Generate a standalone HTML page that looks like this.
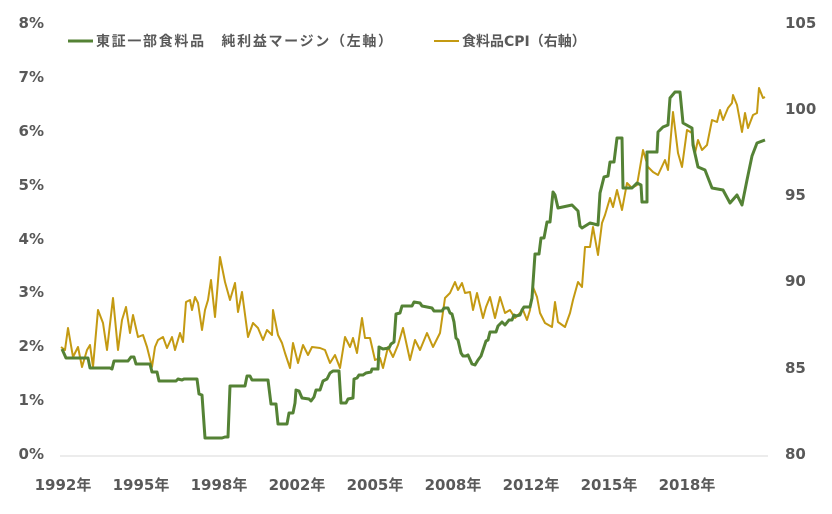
<!DOCTYPE html>
<html><head><meta charset="utf-8"><style>
body{margin:0;background:#fff}
svg text{font-family:"DejaVu Sans","Liberation Sans","Noto Sans CJK JP",sans-serif;font-weight:bold;fill:#595959;font-size:15px}
</style></head><body>
<svg width="832" height="509" xmlns="http://www.w3.org/2000/svg">
<line x1="60" y1="456" x2="768" y2="456" stroke="#d9d9d9" stroke-width="1"/>
<g text-anchor="end">
<text x="44" y="28">8%</text><text x="44" y="82">7%</text><text x="44" y="136">6%</text><text x="44" y="190">5%</text><text x="44" y="244">4%</text><text x="44" y="297">3%</text><text x="44" y="351">2%</text><text x="44" y="405">1%</text><text x="44" y="459">0%</text>
</g>
<g text-anchor="start">
<text x="785" y="28">105</text><text x="785" y="114">100</text><text x="785" y="200">95</text><text x="785" y="286">90</text><text x="785" y="373">85</text><text x="785" y="459">80</text>
</g>
<g text-anchor="middle">
<text x="63" y="490">1992年</text><text x="141" y="490">1995年</text><text x="219" y="490">1998年</text><text x="297" y="490">2002年</text><text x="375" y="490">2005年</text><text x="453" y="490">2008年</text><text x="531" y="490">2012年</text><text x="609" y="490">2015年</text><text x="687" y="490">2018年</text>
</g>
<line x1="68" y1="41" x2="93" y2="41" stroke="#548235" stroke-width="3"/>
<text x="96" y="46" style="font-size:14px" textLength="296" lengthAdjust="spacing">東証一部食料品　純利益マージン（左軸）</text>
<line x1="434" y1="41" x2="459" y2="41" stroke="#C49A12" stroke-width="2"/>
<text x="462" y="46" style="font-size:14px">食料品CPI（右軸）</text>
<polyline fill="none" stroke="#C49A12" stroke-width="2" stroke-linejoin="round" points="61,347 65,350 68,328 73,357 78,347 82,367 87,350 90,345 93,367 98,310 103,323 107,350 113,298 118,350 122,320 126,307 130,333 133,315 138,337 143,335 147,347 152,367 155,347 158,340 163,337 167,348 172,337 175,350 180,333 183,342 186,302 190,300 192,310 195,297 198,303 202,330 205,310 208,300 211,280 215,317 220,257 225,282 230,300 235,283 238,312 242,292 248,337 253,323 258,328 263,340 267,330 272,335 273,310 278,335 282,343 285,353 290,368 293,343 298,363 303,345 308,355 312,347 320,348 325,350 330,363 335,355 340,368 345,337 350,347 353,338 357,353 362,318 365,338 370,338 375,360 380,358 383,368 388,347 393,357 398,345 403,328 410,360 415,340 420,350 427,333 433,347 440,333 445,298 450,293 455,282 458,290 462,283 465,293 470,292 473,310 477,293 483,318 486,307 490,297 495,318 500,297 505,313 510,310 515,318 523,310 527,320 530,310 533,287 537,297 540,313 545,323 552,327 555,302 558,322 565,327 570,313 573,300 578,282 582,287 585,247 590,247 593,227 598,255 602,223 605,215 610,198 613,207 617,190 622,210 627,183 632,188 637,185 643,150 648,167 653,172 658,175 665,160 668,170 673,112 678,153 682,167 687,130 692,133 695,153 698,140 702,150 707,145 712,120 717,122 720,110 723,120 728,108 732,103 733,95 737,105 742,132 745,113 748,128 753,115 757,113 759,88 763,98 765,97"/>
<polyline fill="none" stroke="#548235" stroke-width="3" stroke-linejoin="round" points="62,349 66,358 88,358 90,368 110,368 112,369 114,361 128,361 131,357 134,357 136,364 150,364 152,372 157,372 159,381 176,381 178,379 182,380 184,379 197,379 199,394 202,395 205,438 222,438 225,437 228,437 230,386 245,386 247,376 250,376 252,380 268,380 271,404 276,404 278,424 287,424 289,413 293,413 295,403 296,390 299,391 302,398 309,399 311,401 314,397 316,390 320,390 323,381 327,379 330,373 333,371 339,371 341,403 346,403 348,399 353,398 354,379 357,378 359,375 363,375 366,373 371,372 372,369 378,369 379,347 383,349 389,348 391,344 394,342 396,314 400,313 402,306 412,306 414,302 420,303 422,306 432,308 434,311 442,311 444,308 448,308 450,313 452,314 454,322 456,338 458,340 461,353 463,356 466,356 468,355 472,364 475,365 478,360 481,356 483,350 486,341 488,340 490,332 496,332 498,326 502,322 505,325 509,320 512,320 514,315 516,316 520,315 522,310 524,307 530,307 532,298 535,254 539,254 541,238 544,238 547,222 550,222 553,192 555,195 558,208 572,205 578,211 580,226 582,228 590,223 598,225 600,193 604,177 608,176 610,162 614,162 617,138 622,138 623,188 632,188 637,183 641,185 642,202 647,202 647,152 657,152 658,132 663,127 668,125 670,98 675,92 680,92 683,123 692,128 693,145 698,167 705,170 712,188 723,190 730,203 737,195 742,205 747,180 752,156 757,143 765,140"/>
</svg>
</body></html>
